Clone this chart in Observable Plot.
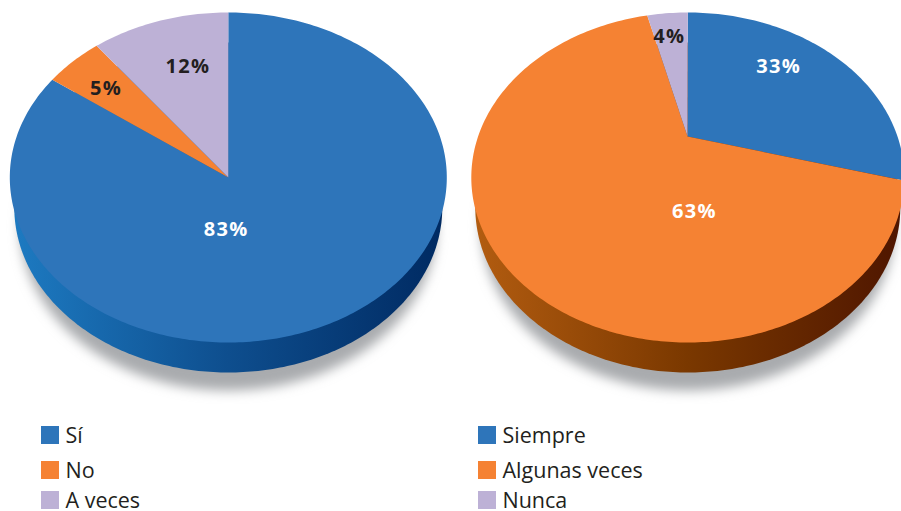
<!DOCTYPE html>
<html lang="es">
<head>
<meta charset="utf-8">
<script src="https://cdn.jsdelivr.net/npm/d3@7"></script>
<script src="https://cdn.jsdelivr.net/npm/@observablehq/plot@0.6"></script>
<style>
  html, body { margin: 0; padding: 0; background: #fff; overflow: hidden; width: 901px; height: 511px; }
  #chart svg text { letter-spacing: 1.3px; }
  #legend { position: relative; width: 901px; height: 101px; font-family: "Open Sans", sans-serif; font-size: 21.5px; color: #231f20; }
  .key { position: absolute; display: flex; align-items: center; height: 18px; white-space: nowrap; }
  .key i { display: block; width: 18px; height: 18px; margin-right: 7px; }
  .key span { display: block; height: 18px; line-height: 18px; margin-left: -0.5px; }
</style>
</head>
<body>
<div id="chart"></div>
<div id="legend"></div>
<script>
// Labels printed on the chart (percent)
const categoriesA = ["Sí", "No", "A veces"];
const valuesA = [83, 5, 12];
const categoriesB = ["Siempre", "Algunas veces", "Nunca"];
const valuesB = [33, 63, 4];

// Share of the ellipse each wedge really occupies in the drawing
const drawnA = [85.1, 4.6, 10.3];
const drawnB = [25.3, 71.7, 3.0];

// Colours
const sliceColors = ["#2e75ba", "#f58233", "#bdb1d6"];
const textColorsA = ["#fff", "#231f20", "#231f20"];
const textColorsB = ["#fff", "#fff", "#231f20"];

// Layout of the two tilted discs, in picture units
const W = 901, H = 410;
const discA = {cx: 227.8, cy: 177, rx: 218.5, ry: 165, apexX: 227.8, apexY: 177, baseCy: 207, baseRx: 214, grad: "gradA"};
const discB = {cx: 687.3, cy: 177, rx: 216.5, ry: 165, apexX: 687, apexY: 136, baseCy: 207, baseRx: 212.5, grad: "gradB"};
// Label anchors relative to the ellipse, in radii
const placeA = [[-0.01, 0.315], [-0.56, -0.54], [-0.185, -0.67]];
const placeB = [[0.42, -0.675], [0.03, 0.205], [-0.085, -0.855]];

const STEPS = 360;
const arc = (d, a0, a1, n) =>
  d3.range(n + 1).map(i => {
    const a = a0 + (a1 - a0) * i / n;
    return {x: d.cx + d.rx * Math.sin(a), y: d.cy - d.ry * Math.cos(a)};
  });

function wedges(d, cats, drawn) {
  const pie = d3.pie().sort(null).startAngle(0).endAngle(2 * Math.PI)(drawn);
  return pie.flatMap((s, i) => {
    const n = Math.max(8, Math.round((s.endAngle - s.startAngle) / (2 * Math.PI) * STEPS));
    const key = cats[i];
    return [{x: d.apexX, y: d.apexY}, ...arc(d, s.startAngle, s.endAngle, n)].map(p => ({...p, key}));
  });
}
const ellipse = (cx, cy, rx, ry) =>
  arc({cx, cy, rx, ry}, 0, 2 * Math.PI, STEPS);

const labels = (d, cats, vals, place, inks) => cats.map((c, i) => ({
  x: d.cx + place[i][0] * d.rx,
  y: d.cy + place[i][1] * d.ry,
  text: vals[i] + "%",
  ink: inks[i]
}));

const svgNS = "http://www.w3.org/2000/svg";
function defs() {
  const el = document.createElementNS(svgNS, "defs");
  el.innerHTML = `
    <filter id="soft" x="-10%" y="-10%" width="120%" height="120%"><feGaussianBlur stdDeviation="6"/></filter>
    <linearGradient id="gradA" x1="0" x2="1" y1="0" y2="0">
      <stop offset="0" stop-color="#1d7ac1"/><stop offset="0.5" stop-color="#0e4e8e"/><stop offset="1" stop-color="#002a62"/>
    </linearGradient>
    <linearGradient id="gradB" x1="0" x2="1" y1="0" y2="0">
      <stop offset="0" stop-color="#b25c10"/><stop offset="0.5" stop-color="#7a3800"/><stop offset="1" stop-color="#4f1600"/>
    </linearGradient>`;
  return el;
}
const blurred = (index, scales, values, dims, ctx, next) => {
  const g = next(index, scales, values, dims, ctx);
  g.setAttribute("filter", "url(#soft)");
  return g;
};

const discs = [
  [discA, categoriesA, drawnA, valuesA, placeA, textColorsA],
  [discB, categoriesB, drawnB, valuesB, placeB, textColorsB]
];

const chart = Plot.plot({
  width: W,
  height: H,
  margin: 0,
  x: {domain: [0, W], range: [0, W], axis: null},
  y: {domain: [0, H], range: [0, H], axis: null},
  color: {domain: [...categoriesA, ...categoriesB], range: [...sliceColors, ...sliceColors]},
  style: {background: "transparent", overflow: "hidden"},
  marks: [
    defs,
    ...discs.flatMap(([d, cats, drawn, vals, place, inks]) => [
      Plot.line(ellipse(d.cx, d.baseCy + 19, d.baseRx - 6, 164), {x: "x", y: "y", fill: "#a9abae", stroke: "none", render: blurred}),
      Plot.line(ellipse(d.cx, d.baseCy, d.baseRx, d.ry), {x: "x", y: "y", fill: `url(#${d.grad})`, stroke: "none"}),
      Plot.line(wedges(d, cats, drawn), {x: "x", y: "y", z: "key", fill: "key", stroke: "none"}),
      Plot.text(labels(d, cats, vals, place, inks), {
        x: "x", y: "y", text: "text", fill: "ink",
        fontFamily: "Open Sans", fontWeight: 700, fontSize: 20
      })
    ])
  ]
});
document.getElementById("chart").append(chart);

// Legend below the plot
const legend = d3.select("#legend");
const rowTops = [16, 51, 81];
[[categoriesA, 41], [categoriesB, 478]].forEach(([cats, left]) => {
  cats.forEach((c, i) => {
    const k = legend.append("div").attr("class", "key")
      .style("left", left + "px").style("top", rowTops[i] + "px");
    k.append("i").style("background", sliceColors[i]);
    k.append("span").text(c);
  });
});
</script>
</body>
</html>
